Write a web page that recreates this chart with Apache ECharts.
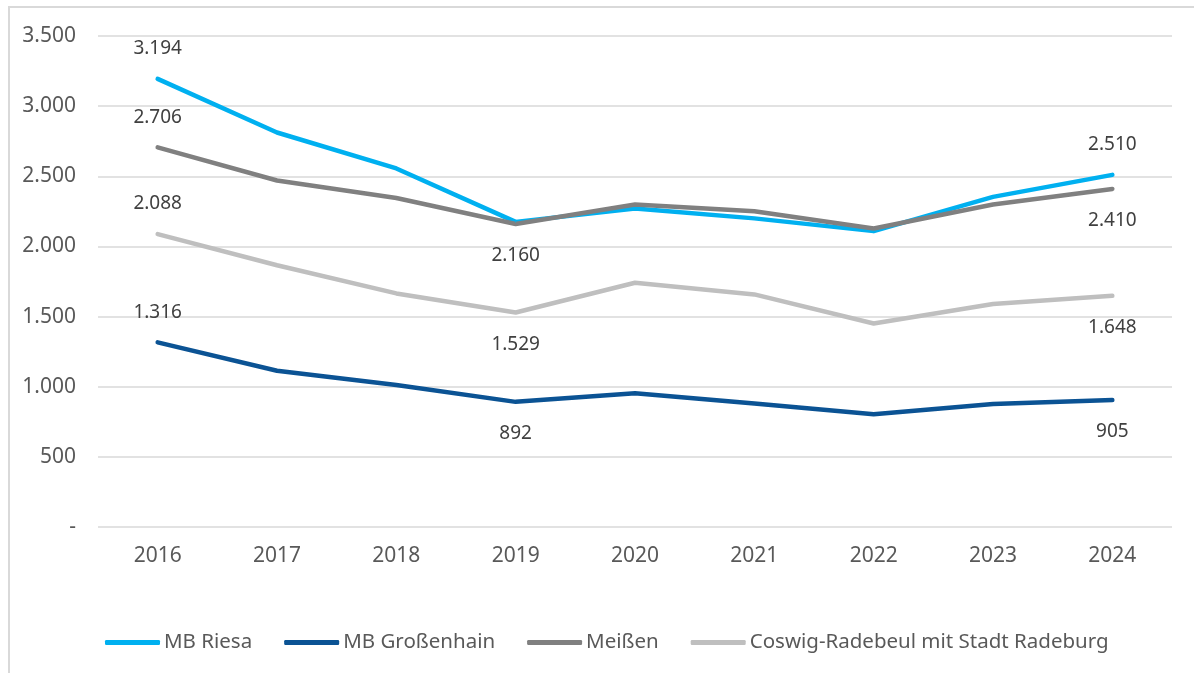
<!DOCTYPE html>
<html>
<head>
<meta charset="utf-8">
<script src="https://cdn.jsdelivr.net/npm/echarts@6/dist/echarts.min.js"></script>
<style>
  html, body { margin: 0; padding: 0; background: #fff; }
  #main { width: 1194px; height: 673px; }
</style>
</head>
<body>
<div id="main"></div>
<script>
var years = ['2016', '2017', '2018', '2019', '2020', '2021', '2022', '2023', '2024'];

var riesa      = [3194, 2812, 2556, 2175, 2270, 2200, 2109, 2353, 2510];
var grossenhain = [1316, 1114, 1012, 892, 953, 881, 803, 876, 905];
var meissen    = [2706, 2470, 2345, 2160, 2299, 2251, 2128, 2299, 2410];
var coswig     = [2088, 1866, 1665, 1529, 1741, 1658, 1451, 1589, 1648];

// which points carry a value label
var riesaTop = [0, 8], riesaBottom = [];
var grossTop = [0], grossBottom = [3, 8];
var meissenTop = [0], meissenBottom = [3, 8];
var coswigTop = [0], coswigBottom = [3, 8];

function de(v) {
  if (v === 0) return '-';
  return String(v).replace(/\B(?=(\d{3})+(?!\d))/g, '.');
}

function points(values, top, bottom) {
  return values.map(function (v, i) {
    if (top.indexOf(i) >= 0) return { value: v, label: { show: true, position: 'top', distance: 20 } };
    if (bottom.indexOf(i) >= 0) return { value: v, label: { show: true, position: 'bottom', distance: 22 } };
    return v;
  });
}

var font = 'Noto Sans';

function line(name, color, data) {
  return {
    name: name,
    type: 'line',
    data: data,
    symbol: 'circle',
    symbolSize: 1,
    itemStyle: { color: color },
    lineStyle: { color: color, width: 4.5, cap: 'round', join: 'round' },
    label: {
      show: false,
      color: '#404040',
      fontFamily: font,
      fontSize: 19,
      formatter: function (p) { return de(p.value); }
    },
    emphasis: { disabled: true }
  };
}

var chart = echarts.init(document.getElementById('main'));
chart.setOption({
  animation: false,
  backgroundColor: '#fff',
  graphic: [{
    type: 'rect',
    shape: { x: 9, y: 7, width: 1400, height: 900 },
    style: { fill: 'none', stroke: '#d9d9d9', lineWidth: 2 },
    silent: true
  }],
  grid: { left: 98, right: 22, top: 36, bottom: 146, containLabel: false },
  legend: {
    left: 100,
    top: 627,
    icon: 'roundRect',
    itemWidth: 55,
    itemHeight: 5,
    itemGap: 32,
    textStyle: { color: '#595959', fontFamily: font, fontSize: 20.5, padding: [0, 0, 0, -1] },
    data: ['MB Riesa', 'MB Großenhain', 'Meißen', 'Coswig-Radebeul mit Stadt Radeburg']
  },
  xAxis: {
    type: 'category',
    data: years,
    boundaryGap: true,
    axisLine: { show: false },
    axisTick: { show: false },
    axisLabel: { color: '#595959', fontFamily: font, fontSize: 21, margin: 19 }
  },
  yAxis: {
    type: 'value',
    min: 0,
    max: 3500,
    interval: 500,
    axisLine: { show: false },
    axisTick: { show: false },
    splitLine: { lineStyle: { color: '#d9d9d9', width: 1.5 } },
    axisLabel: {
      color: '#595959', fontFamily: font, fontSize: 21, margin: 22,
      formatter: de
    }
  },
  series: [
    line('MB Riesa', '#00b0f0', points(riesa, riesaTop, riesaBottom)),
    line('MB Großenhain', '#0b5394', points(grossenhain, grossTop, grossBottom)),
    line('Meißen', '#808080', points(meissen, meissenTop, meissenBottom)),
    line('Coswig-Radebeul mit Stadt Radeburg', '#bfbfbf', points(coswig, coswigTop, coswigBottom))
  ]
});
</script>
</body>
</html>
